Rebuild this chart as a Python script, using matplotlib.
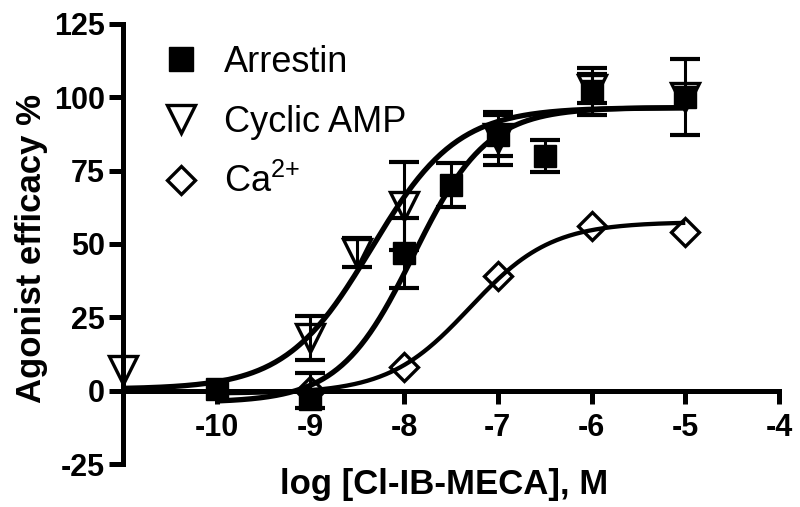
import matplotlib
matplotlib.use('Agg')
import matplotlib.pyplot as plt
from matplotlib.lines import Line2D
import numpy as np

plt.rcParams['font.family'] = ['Liberation Sans', 'DejaVu Sans']
plt.rcParams['mathtext.fontset'] = 'custom'
plt.rcParams['mathtext.rm'] = 'Liberation Sans'
plt.rcParams['mathtext.it'] = 'Liberation Sans'

# Data (log M, % efficacy, SEM; 0 = bar hidden by marker)
arrestin_x = [-10, -9, -8, -7.5, -7, -6.5, -6, -5]
arrestin_y = [0.5, -3, 47, 70, 87, 80, 102, 100]
arrestin_err = [0, 0, 12, 7.5, 7, 5.5, 8, 13]

camp_x = [-11, -9, -8.5, -8, -7, -6, -5]
camp_y = [7, 18, 47, 63, 86, 103, 100]
camp_err = [0, 7.5, 5, 15, 9, 5, 0]

ca_x = [-9, -8, -7, -6, -5]
ca_y = [0, 8, 39, 56, 54]
ca_err = [6, 0, 0, 0, 0]

# sigmoidal fit parameters: bottom, top, logEC50, hill, x range
arrestin_fit = [-4, 96.5, -7.9, 1.1, -10, -5]
camp_fit = [0.5, 96.5, -8.35, 0.95, -11, -5]
ca_fit = [-1, 57.5, -7.3, 1.0, -10, -5]

y_ticks = [-25, 0, 25, 50, 75, 100, 125]
x_ticks = [-10, -9, -8, -7, -6, -5, -4]


def dose_response(params):
    bottom, top, logec50, hill, x0, x1 = params
    x = np.linspace(x0, x1, 300)
    return x, bottom + (top - bottom) / (1 + 10 ** ((logec50 - x) * hill))


fig = plt.figure(figsize=(8, 5.07), dpi=100)
ax = fig.add_axes([0.15375, 0.0848, 0.82, 0.8679])

for side in ['top', 'right']:
    ax.spines[side].set_visible(False)
ax.spines['bottom'].set_position(('data', 0))
ax.spines['left'].set_linewidth(3.6)
ax.spines['bottom'].set_linewidth(3.6)

# fitted curves
for fit, lw in [(arrestin_fit, 3.8), (camp_fit, 3.8), (ca_fit, 3.1)]:
    xs, ys = dose_response(fit)
    ax.plot(xs, ys, color='black', lw=lw, solid_capstyle='butt', zorder=2)

# error bars (only where visible)
for xs, ys, es in [(arrestin_x, arrestin_y, arrestin_err),
                   (camp_x, camp_y, camp_err),
                   (ca_x, ca_y, ca_err)]:
    keep = [i for i, e in enumerate(es) if e > 0]
    ax.errorbar([xs[i] for i in keep], [ys[i] for i in keep],
                yerr=[es[i] for i in keep], fmt='none', ecolor='black',
                elinewidth=2.2, capsize=11, capthick=3, zorder=3)

# markers
ax.plot(arrestin_x, arrestin_y, 's', ms=16, color='black', zorder=4, clip_on=False)
ax.plot(camp_x, camp_y, 'v', ms=20, mfc='none', mec='black', mew=2.4, zorder=4,
        clip_on=False)
ax.plot(ca_x, ca_y, 'D', ms=14, mfc='none', mec='black', mew=2.4, zorder=4,
        clip_on=False)

ax.set_xlim(-11, -4)
ax.set_ylim(-25, 125)
ax.set_xticks(x_ticks)
ax.set_yticks(y_ticks)
ax.set_xticklabels([str(t) for t in x_ticks], fontsize=22, fontweight='bold')
ax.set_yticklabels([str(t) for t in y_ticks], fontsize=22, fontweight='bold')
ax.tick_params(axis='y', direction='out', length=10, width=3.6, pad=3)
ax.tick_params(axis='x', direction='out', length=9, width=3.6, pad=7)

ax.set_xlabel('log [Cl-IB-MECA], M', fontsize=25, fontweight='bold')
ax.xaxis.set_label_coords(0.49, -0.01)
ax.set_ylabel('Agonist efficacy %', fontsize=25, fontweight='bold')
ax.yaxis.set_label_coords(-0.115, 0.489)

# legend
handles = [
    Line2D([], [], ls='none', marker='s', ms=17, color='black'),
    Line2D([], [], ls='none', marker='v', ms=20, mfc='none', mec='black', mew=2.4),
    Line2D([], [], ls='none', marker='D', ms=14, mfc='none', mec='black', mew=2.4),
]
labels = ['Arrestin', 'Cyclic AMP', 'Ca$^{2{+}}$']
ax.legend(handles, labels, loc='upper left', bbox_to_anchor=(163 / 800, 1 - 45 / 507),
          bbox_transform=fig.transFigure, frameon=False, fontsize=26,
          handlelength=1.0, handletextpad=0.7, labelspacing=0.68,
          borderpad=0, borderaxespad=0)

fig.savefig('out.png', dpi=100)
